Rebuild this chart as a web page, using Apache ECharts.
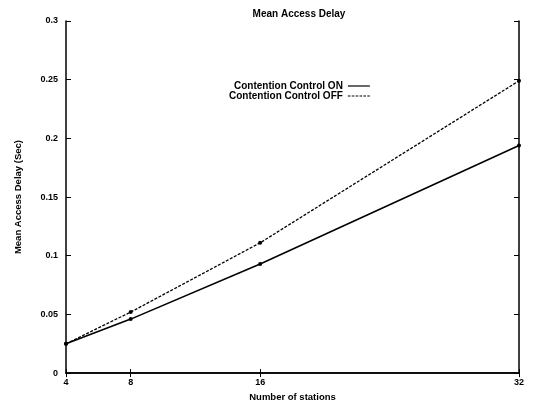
<!DOCTYPE html>
<html><head><meta charset="utf-8">
<script src="https://cdn.jsdelivr.net/npm/echarts@6/dist/echarts.min.js"></script>
<style>html,body{margin:0;padding:0;background:#fff}#c{width:546px;height:407px}</style>
</head><body><div id="c"></div>
<script>
const stations = [4, 8, 16, 32];
const delayOn = [0.025, 0.046, 0.093, 0.194];
const delayOff = [0.025, 0.052, 0.111, 0.249];
const yTicks = [0, 0.05, 0.1, 0.15, 0.2, 0.25, 0.3];

const font = 'Liberation Sans';
const chart = echarts.init(document.getElementById('c'), null, {renderer: 'canvas'});
const axisLine = {show: true, lineStyle: {color: '#000', width: 1.5}};
const solidIcon = 'path://M0,0L26,0L26,1.4L0,1.4Z';
const dashIcon = 'path://M0,0L3,0L3,1.2L0,1.2Z M4.5,0L7.5,0L7.5,1.2L4.5,1.2Z M9,0L12,0L12,1.2L9,1.2Z M13.5,0L16.5,0L16.5,1.2L13.5,1.2Z M18,0L21,0L21,1.2L18,1.2Z M22.5,0L25.5,0L25.5,1.2L22.5,1.2Z';
chart.setOption({
  animation: false,
  backgroundColor: '#fff',
  title: {text: 'Mean Access Delay', left: 294, top: 4, textAlign: 'center',
    textStyle: {fontFamily: font, fontSize: 10, fontWeight: 'bold', color: '#000'}},
  legend: {
    orient: 'vertical', left: 224, top: 76, align: 'right', itemGap: 0,
    itemWidth: 22, itemHeight: 1.4,
    textStyle: {fontFamily: font, fontSize: 10, lineHeight: 10, fontWeight: 'bold', color: '#000'},
    data: [
      {name: 'Contention Control ON', icon: solidIcon, itemStyle: {color: '#000'}},
      {name: 'Contention Control OFF', icon: dashIcon, itemStyle: {color: '#000'}}
    ]
  },
  grid: {left: 66, right: 27, top: 21, bottom: 33},
  xAxis: [{
    type: 'value', min: 4, max: 32,
    name: 'Number of stations', nameLocation: 'middle', nameGap: 18,
    nameTextStyle: {fontFamily: font, fontSize: 9.5, fontWeight: 'bold', color: '#000'},
    axisLine: axisLine,
    axisTick: {show: true, inside: true, length: 4, customValues: stations, lineStyle: {color: '#000'}},
    axisLabel: {customValues: stations, fontFamily: font, fontSize: 9, fontWeight: 'bold', color: '#000', margin: 5},
    splitLine: {show: false}
  }, {
    type: 'value', min: 4, max: 32, position: 'top',
    axisLine: axisLine,
    axisTick: {show: true, inside: true, length: 4, customValues: stations, lineStyle: {color: '#000'}},
    axisLabel: {show: false}, splitLine: {show: false}
  }],
  yAxis: [{
    type: 'value', min: 0, max: 0.3, interval: 0.05,
    name: 'Mean Access Delay (Sec)', nameLocation: 'middle', nameGap: 43,
    nameTextStyle: {fontFamily: font, fontSize: 9.5, fontWeight: 'bold', color: '#000'},
    axisLine: axisLine,
    axisTick: {show: true, inside: true, length: 5, lineStyle: {color: '#000'}},
    axisLabel: {fontFamily: font, fontSize: 9, fontWeight: 'bold', color: '#000', margin: 8,
      formatter: v => { const t = yTicks.find(x => Math.abs(x - v) < 1e-9); return t === undefined ? '' : String(t); }},
    splitLine: {show: false}
  }, {
    type: 'value', min: 0, max: 0.3, interval: 0.05, position: 'right',
    axisLine: axisLine,
    axisTick: {show: true, inside: true, length: 5, lineStyle: {color: '#000'}},
    axisLabel: {show: false}, splitLine: {show: false}
  }],
  series: [{
    name: 'Contention Control ON', type: 'line',
    data: stations.map((s, i) => [s, delayOn[i]]),
    symbol: 'circle', symbolSize: 4, showSymbol: true,
    lineStyle: {color: '#000', width: 1.6, type: 'solid'},
    itemStyle: {color: '#000'}
  }, {
    name: 'Contention Control OFF', type: 'line',
    data: stations.map((s, i) => [s, delayOff[i]]),
    symbol: 'circle', symbolSize: 4, showSymbol: true,
    lineStyle: {color: '#000', width: 1.3, type: [3, 1.5]},
    itemStyle: {color: '#000'}
  }]
});
</script></body></html>
